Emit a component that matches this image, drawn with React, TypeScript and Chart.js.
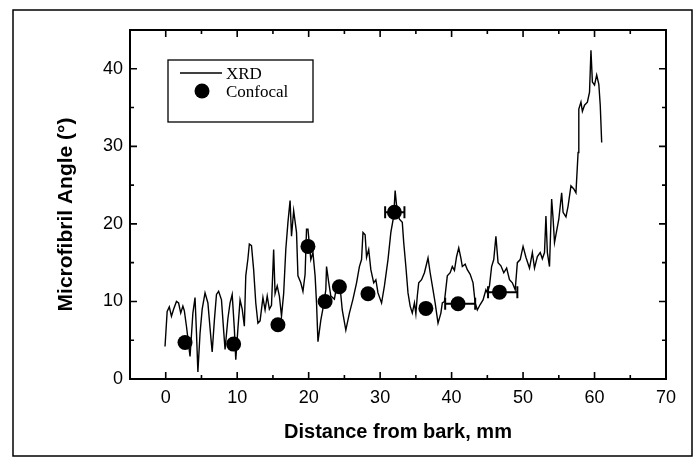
import React, { useEffect, useRef } from "react";
import { Chart, registerables } from "chart.js";

Chart.register(...registerables);

// XRD profile: distance from bark (mm) and microfibril angle (deg)
const xrdDistance = [
  -0.1, 0.2, 0.5, 0.8, 1.1, 1.5, 1.8, 2.1, 2.4, 2.6, 2.9, 3.4, 3.8, 4.1, 4.3, 4.5, 4.8, 5.1, 5.5, 5.9,
  6.3, 6.5, 6.8, 7.1, 7.4, 7.8, 8.1, 8.3, 8.7, 9.0, 9.3, 9.6, 9.8, 10.1, 10.4, 10.7, 11.0, 11.2, 11.5, 11.7,
  12.0, 12.3, 12.6, 12.9, 13.2, 13.6, 13.9, 14.2, 14.5, 14.8, 15.1, 15.3, 15.6, 15.9, 16.2, 16.5, 16.8, 17.1, 17.4, 17.6,
  17.9, 18.3, 18.5, 18.9, 19.2, 19.5, 19.7, 19.9, 20.3, 20.6, 20.9, 21.1, 21.3, 21.7, 22.1, 22.4, 22.5, 22.8, 23.1, 23.6,
  24.0, 24.4, 24.7, 25.2, 25.7, 26.2, 26.7, 27.1, 27.4, 27.6, 27.9, 28.1, 28.4, 28.7, 29.1, 29.4, 29.7, 30.2, 30.6, 31.1,
  31.5, 31.9, 32.1, 32.4, 32.7, 33.1, 33.3, 33.6, 33.9, 34.2, 34.5, 34.8, 35.0, 35.2, 35.4, 35.8, 36.2, 36.7, 37.0, 37.4,
  37.7, 37.9, 38.1, 38.5, 38.7, 39.0, 39.4, 39.8, 40.1, 40.4, 40.7, 41.0, 41.3, 41.5, 41.9, 42.2, 42.6, 43.0, 43.3, 43.6,
  44.0, 44.4, 44.8, 45.0, 45.3, 45.6, 45.9, 46.2, 46.5, 46.9, 47.3, 47.7, 48.1, 48.5, 48.9, 49.2, 49.6, 50.0, 50.4, 50.9,
  51.3, 51.6, 52.0, 52.4, 52.7, 53.0, 53.2, 53.4, 53.7, 54.0, 54.2, 54.4, 54.7, 55.0, 55.4, 55.6, 56.0, 56.3, 56.7, 57.1,
  57.4, 57.7, 57.8, 58.1, 58.3, 58.6, 59.0, 59.3, 59.5, 59.7, 60.0, 60.3, 60.6, 60.8, 61.0,
];
const xrdAngle = [
  4.2, 8.7, 9.3, 8.1, 9.0, 10.0, 9.8, 8.5, 9.4, 8.8, 6.8, 2.9, 8.5, 10.5, 6.0, 0.9, 5.9, 9.0, 11.1, 9.8,
  5.5, 3.5, 7.5, 10.9, 11.3, 10.2, 6.3, 3.8, 7.8, 9.8, 10.9, 6.5, 2.5, 6.5, 10.2, 9.0, 6.8, 13.3, 15.5, 17.4,
  17.2, 14.1, 9.8, 7.2, 7.5, 10.5, 8.9, 10.7, 9.0, 9.5, 16.7, 11.0, 12.0, 10.7, 8.1, 11.0, 16.7, 20.2, 23.0, 18.4,
  21.7, 18.9, 13.3, 12.4, 11.3, 13.5, 19.3, 19.3, 15.4, 16.3, 13.3, 9.8, 4.8, 7.6, 9.6, 11.5, 14.5, 12.5, 10.7, 10.3,
  12.4, 11.8, 8.9, 6.3, 8.5, 10.3, 12.4, 14.5, 15.4, 18.9, 18.6, 15.7, 16.7, 14.1, 12.4, 12.8, 11.1, 9.8, 12.0, 15.4,
  18.9, 21.0, 24.3, 21.4, 20.6, 20.2, 17.6, 14.5, 11.1, 9.4, 8.5, 9.8, 8.4, 10.7, 12.4, 12.8, 13.7, 15.6, 13.7, 11.5,
  9.8, 8.5, 7.2, 8.5, 9.8, 10.0, 13.3, 13.7, 14.5, 14.0, 15.8, 16.9, 15.6, 14.5, 14.8, 14.1, 13.5, 12.4, 9.8, 8.9,
  9.6, 10.2, 11.5, 11.1, 12.0, 14.5, 15.4, 18.4, 15.0, 14.6, 13.7, 14.3, 12.8, 12.4, 11.5, 15.0, 15.4, 17.1, 15.7, 14.3,
  16.3, 14.3, 15.8, 16.3, 15.5, 16.3, 21.0, 16.3, 14.5, 23.2, 20.7, 17.6, 19.1, 20.6, 24.0, 21.5, 20.9, 22.3, 24.9, 24.5,
  24.0, 29.2, 34.8, 35.7, 34.5, 35.3, 35.7, 37.0, 42.4, 38.3, 37.9, 39.2, 38.0, 35.3, 30.5,
];

// Confocal measurements
const confocalDistance = [2.7, 9.5, 15.7, 19.9, 22.3, 24.3, 28.3, 32.0, 36.4, 40.9, 46.7];
const confocalAngle = [4.7, 4.5, 7.0, 17.1, 10.0, 11.9, 11.0, 21.5, 9.1, 9.7, 11.2];
const confocalErrLow = [0, 0, 0, 0, 0, 0, 0, 1.3, 0, 1.8, 1.6];
const confocalErrHigh = [0, 0, 0, 0, 0, 0, 0, 1.4, 0, 2.4, 2.5];

// Axes
const xTickValues = [0, 10, 20, 30, 40, 50, 60, 70];
const xMinorTickValues = [5, 15, 25, 35, 45, 55, 65];
const yTickValues = [0, 10, 20, 30, 40];
const yMinorTickValues = [5, 15, 25, 35];
const X_MIN = -5;
const X_MAX = 70;
const Y_MIN = 0;
const Y_MAX = 45;

const seriesLabels = ["XRD", "Confocal"];
const xTitle = "Distance from bark, mm";
const yTitle = "Microfibril Angle (°)";

const SANS = "'Liberation Sans', Arial, Helvetica, sans-serif";
const SERIF = "'Liberation Serif', 'Times New Roman', serif";

const decorPlugin = {
  id: "decor",
  beforeDraw(chart: any) {
    const ctx = chart.ctx;
    ctx.save();
    ctx.fillStyle = "#fff";
    ctx.fillRect(0, 0, chart.width, chart.height);
    ctx.restore();
  },
  afterDatasetsDraw(chart: any) {
    const { ctx, scales } = chart;
    const xs = scales.x;
    const ys = scales.y;
    ctx.save();
    ctx.strokeStyle = "#000";
    ctx.lineWidth = 2;
    for (let i = 0; i < confocalDistance.length; i++) {
      const lo = confocalErrLow[i];
      const hi = confocalErrHigh[i];
      if (!lo && !hi) continue;
      const py = ys.getPixelForValue(confocalAngle[i]);
      const p1 = xs.getPixelForValue(confocalDistance[i] - lo);
      const p2 = xs.getPixelForValue(confocalDistance[i] + hi);
      const cap = 6;
      ctx.beginPath();
      ctx.moveTo(p1, py);
      ctx.lineTo(p2, py);
      ctx.moveTo(p1, py - cap);
      ctx.lineTo(p1, py + cap);
      ctx.moveTo(p2, py - cap);
      ctx.lineTo(p2, py + cap);
      ctx.stroke();
    }
    ctx.restore();
  },
  afterDraw(chart: any) {
    const { ctx, chartArea: a, scales } = chart;
    const xs = scales.x;
    const ys = scales.y;
    ctx.save();
    ctx.strokeStyle = "#000";
    ctx.lineWidth = 2;
    ctx.strokeRect(a.left, a.top, a.right - a.left, a.bottom - a.top);

    const major = 7;
    const minor = 4;
    ctx.lineWidth = 1.6;
    ctx.beginPath();
    const xt = (v: number, len: number) => {
      const px = xs.getPixelForValue(v);
      ctx.moveTo(px, a.bottom);
      ctx.lineTo(px, a.bottom - len);
      ctx.moveTo(px, a.top);
      ctx.lineTo(px, a.top + len);
    };
    const yt = (v: number, len: number) => {
      const py = ys.getPixelForValue(v);
      ctx.moveTo(a.left, py);
      ctx.lineTo(a.left + len, py);
      ctx.moveTo(a.right, py);
      ctx.lineTo(a.right - len, py);
    };
    xTickValues.forEach((v) => xt(v, major));
    xMinorTickValues.forEach((v) => xt(v, minor));
    yTickValues.forEach((v) => yt(v, major));
    yMinorTickValues.forEach((v) => yt(v, minor));
    ctx.stroke();

    // y-axis title (rotated)
    ctx.save();
    ctx.translate(66, (a.top + a.bottom) / 2 + 10);
    ctx.rotate(-Math.PI / 2);
    ctx.fillStyle = "#000";
    ctx.font = `bold 21px ${SANS}`;
    ctx.textAlign = "center";
    ctx.textBaseline = "middle";
    ctx.fillText(yTitle, 0, 0);
    ctx.restore();

    // outer figure frame
    ctx.lineWidth = 1.5;
    ctx.strokeRect(13, 10, 679, 446);

    // legend
    const lx = a.left + 38;
    const ly = a.top + 30;
    const lw = 145;
    const lh = 62;
    ctx.lineWidth = 1.3;
    ctx.strokeRect(lx, ly, lw, lh);
    ctx.beginPath();
    ctx.moveTo(lx + 12, ly + 13);
    ctx.lineTo(lx + 54, ly + 13);
    ctx.stroke();
    ctx.fillStyle = "#000";
    ctx.beginPath();
    ctx.arc(lx + 34, ly + 31, 7.5, 0, Math.PI * 2);
    ctx.fill();
    ctx.font = `17px ${SERIF}`;
    ctx.textBaseline = "middle";
    ctx.textAlign = "left";
    ctx.fillText(seriesLabels[0], lx + 58, ly + 15);
    ctx.fillText(seriesLabels[1], lx + 58, ly + 33);
    ctx.restore();
  },
};

export default function App() {
  const canvasRef = useRef<HTMLCanvasElement | null>(null);

  useEffect(() => {
    const canvas = canvasRef.current;
    if (!canvas) return;
    const xrdPoints = xrdDistance.map((x, i) => ({ x, y: xrdAngle[i] }));
    const confocalPoints = confocalDistance.map((x, i) => ({ x, y: confocalAngle[i] }));

    const chart = new Chart(canvas, {
      type: "scatter",
      data: {
        datasets: [
          {
            label: seriesLabels[0],
            data: xrdPoints,
            showLine: true,
            borderColor: "#000",
            borderWidth: 1.4,
            pointRadius: 0,
            tension: 0,
            order: 2,
          },
          {
            label: seriesLabels[1],
            data: confocalPoints,
            showLine: false,
            pointRadius: 7.5,
            pointBackgroundColor: "#000",
            pointBorderColor: "#000",
            pointBorderWidth: 0,
            order: 1,
          },
        ],
      },
      options: {
        responsive: false,
        animation: false,
        devicePixelRatio: 1,
        layout: { padding: { top: 30, right: 32, left: 0, bottom: 0 } },
        plugins: {
          legend: { display: false },
          tooltip: { enabled: false },
          title: { display: false },
        },
        scales: {
          x: {
            type: "linear",
            min: X_MIN,
            max: X_MAX,
            grid: { display: false, drawTicks: false },
            border: { display: false },
            afterBuildTicks: (scale: any) => {
              scale.ticks = xTickValues.map((v) => ({ value: v }));
            },
            afterFit: (scale: any) => {
              scale.height = 79;
            },
            ticks: {
              color: "#000",
              padding: 8,
              maxRotation: 0,
              autoSkip: false,
              font: { family: SANS, size: 18 },
              callback: (v: any) => String(v),
            },
            title: {
              display: true,
              text: xTitle,
              color: "#000",
              font: { family: SANS, size: 20, weight: "bold" },
              padding: { top: 0, bottom: 14 },
            },
          },
          y: {
            type: "linear",
            min: Y_MIN,
            max: Y_MAX,
            grid: { display: false, drawTicks: false },
            border: { display: false },
            afterBuildTicks: (scale: any) => {
              scale.ticks = yTickValues.map((v) => ({ value: v }));
            },
            afterFit: (scale: any) => {
              scale.width = 130;
            },
            ticks: {
              color: "#000",
              padding: 7,
              autoSkip: false,
              font: { family: SANS, size: 18 },
              callback: (v: any) => String(v),
            },
            title: { display: false },
          },
        },
      },
      plugins: [decorPlugin],
    });

    return () => chart.destroy();
  }, []);

  return (
    <div style={{ position: "fixed", left: 0, top: 0, width: 698, height: 458, background: "#fff" }}>
      <canvas ref={canvasRef} width={698} height={458} style={{ display: "block", width: 698, height: 458 }} />
    </div>
  );
}
